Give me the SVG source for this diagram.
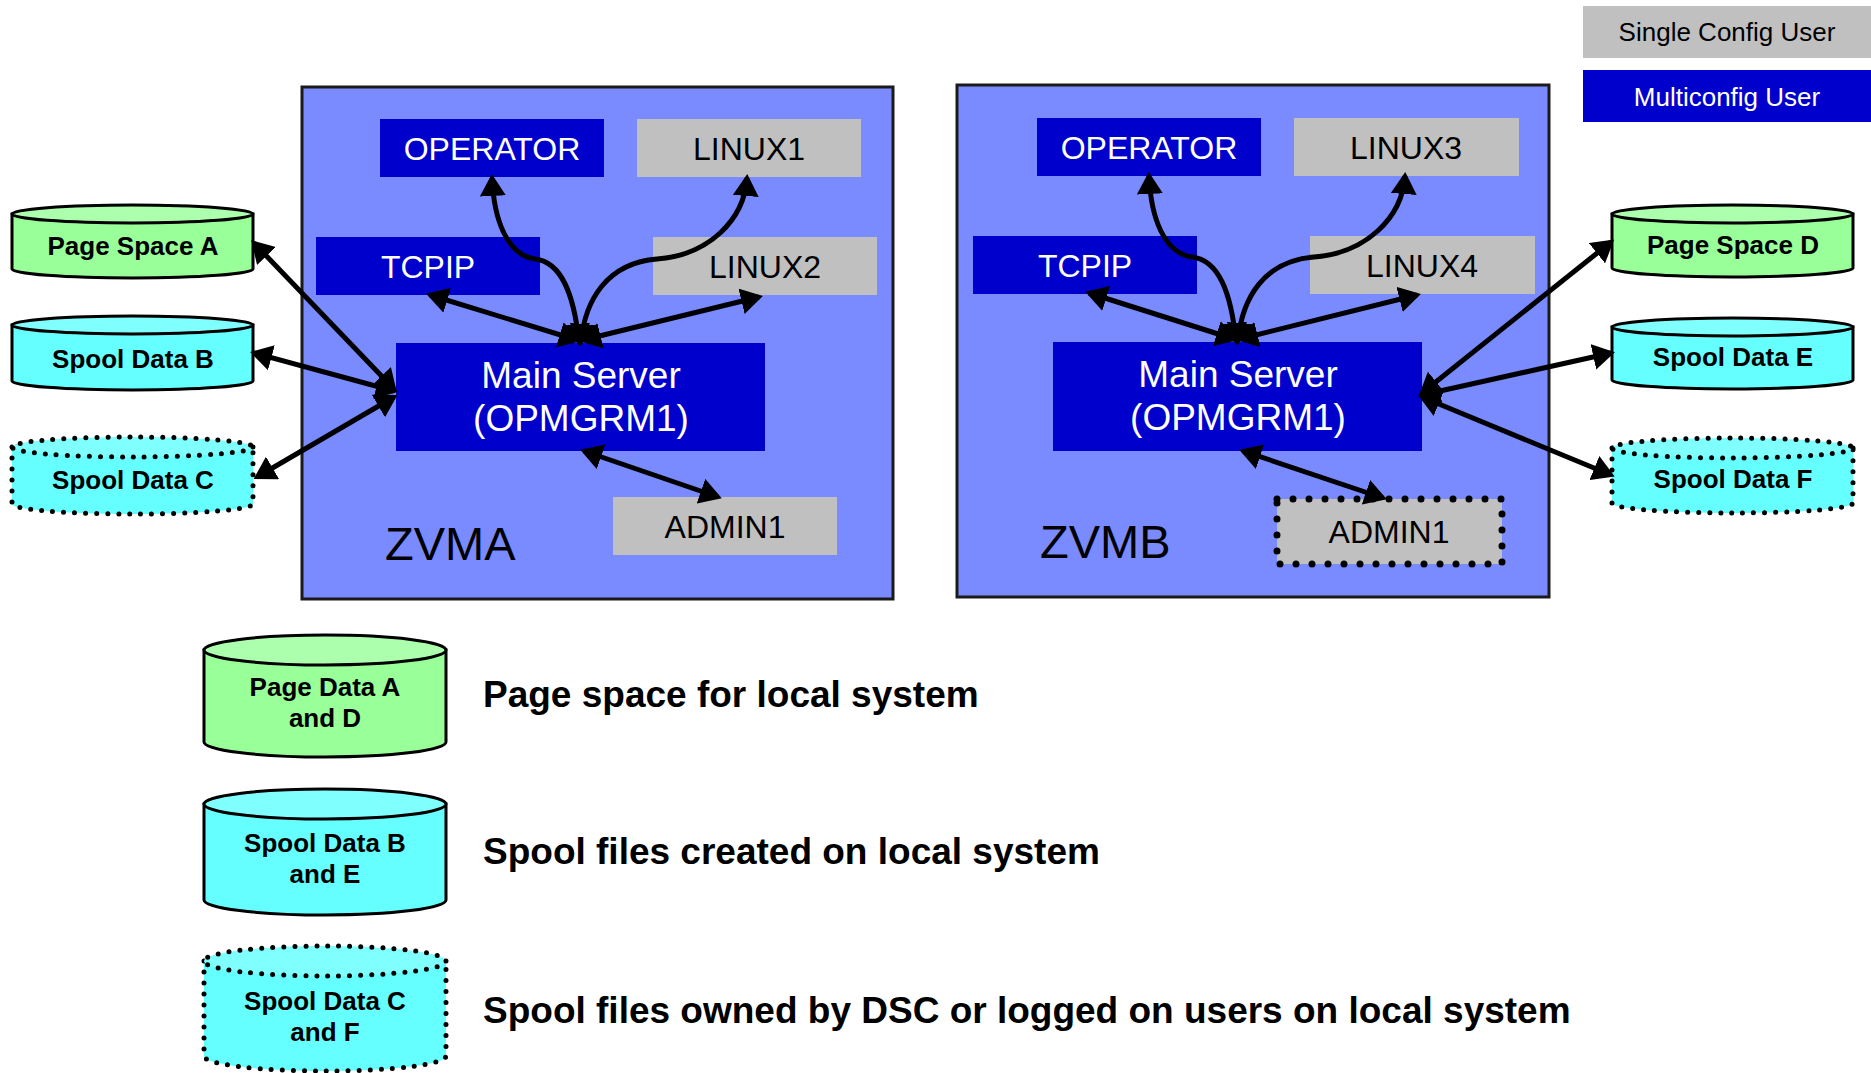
<svg xmlns="http://www.w3.org/2000/svg" width="1871" height="1073" viewBox="0 0 1871 1073">
<style>
.sys{fill:#7A8AFF;stroke:#1a1a1a;stroke-width:3}
.blue{fill:#0000CC}
.gray{fill:#C0C0C0}
.dotbox{stroke:#000;stroke-width:7;stroke-dasharray:0 16;stroke-linecap:round}
.tw{font-family:"Liberation Sans",Arial,sans-serif;font-size:32px;fill:#fff;text-anchor:middle}
.tb{font-family:"Liberation Sans",Arial,sans-serif;font-size:32px;fill:#000;text-anchor:middle}
.big{font-family:"Liberation Sans",Arial,sans-serif;font-size:47px;fill:#000}
.main{font-family:"Liberation Sans",Arial,sans-serif;font-size:37px;fill:#fff;text-anchor:middle}
.leg{font-size:26px}
.cyl{font-family:"Liberation Sans",Arial,sans-serif;font-size:26px;font-weight:bold;fill:#000;text-anchor:middle}
.desc{font-family:"Liberation Sans",Arial,sans-serif;font-size:37px;font-weight:bold;fill:#000}
.gb{fill:#99FF99;stroke:#000;stroke-width:3}
.gt{fill:#ACFFAC;stroke:#000;stroke-width:3}
.cb{fill:#66FFFF;stroke:#000;stroke-width:3}
.ct{fill:#80FFFF;stroke:#000;stroke-width:3}
.dot{stroke-width:5;stroke-dasharray:0 11;stroke-linecap:round}
.conn path{fill:none;stroke:#000;stroke-width:5;marker-start:url(#ah);marker-end:url(#ah)}
</style>
<defs>
<marker id="ah" markerUnits="userSpaceOnUse" markerWidth="22" markerHeight="26" refX="18" refY="13" orient="auto-start-reverse" viewBox="0 0 22 26">
<path d="M0,0 L22,13 L0,26 Z" fill="#000"/>
</marker>
</defs>

<g id="legend-single"><rect x="1583" y="6" width="288" height="52" class="gray"/><text x="1727" y="41" class="tb leg">Single Config User</text></g>
<g id="legend-multi"><rect x="1583" y="70" width="288" height="52" class="blue"/><text x="1727" y="106" class="tw leg">Multiconfig User</text></g>

<g id="zvma"><rect x="302" y="87" width="591" height="512" class="sys"/><text x="385" y="560" class="big">ZVMA</text></g>
<g id="zvma-operator"><rect x="380" y="119" width="224" height="58" class="blue"/><text x="492" y="160" class="tw">OPERATOR</text></g>
<g id="zvma-linux1"><rect x="637" y="119" width="224" height="58" class="gray"/><text x="749" y="160" class="tb">LINUX1</text></g>
<g id="zvma-tcpip"><rect x="316" y="237" width="224" height="58" class="blue"/><text x="428" y="278" class="tw">TCPIP</text></g>
<g id="zvma-linux2"><rect x="653" y="237" width="224" height="58" class="gray"/><text x="765" y="278" class="tb">LINUX2</text></g>
<g id="zvma-main"><rect x="396" y="343" width="369" height="108" class="blue"/><text x="581" y="388" class="main">Main Server</text><text x="581" y="431" class="main">(OPMGRM1)</text></g>
<g id="zvma-admin1"><rect x="613" y="497" width="224" height="58" class="gray"/><text x="725" y="538" class="tb">ADMIN1</text></g>

<g id="zvmb"><rect x="957" y="85" width="592" height="512" class="sys"/><text x="1040" y="558" class="big">ZVMB</text></g>
<g id="zvmb-operator"><rect x="1037" y="118" width="224" height="58" class="blue"/><text x="1149" y="159" class="tw">OPERATOR</text></g>
<g id="zvmb-linux3"><rect x="1294" y="118" width="225" height="58" class="gray"/><text x="1406" y="159" class="tb">LINUX3</text></g>
<g id="zvmb-tcpip"><rect x="973" y="236" width="224" height="58" class="blue"/><text x="1085" y="277" class="tw">TCPIP</text></g>
<g id="zvmb-linux4"><rect x="1310" y="236" width="225" height="58" class="gray"/><text x="1422" y="277" class="tb">LINUX4</text></g>
<g id="zvmb-main"><rect x="1053" y="342" width="369" height="109" class="blue"/><text x="1238" y="387" class="main">Main Server</text><text x="1238" y="430" class="main">(OPMGRM1)</text></g>
<g id="zvmb-admin1"><rect x="1277" y="499" width="225" height="65" class="gray dotbox"/><text x="1389" y="543" class="tb">ADMIN1</text></g>

<g id="page-space-a"><path d="M12,214 L12,269 A120.5,9 0 0 0 253,269 L253,214 Z" class="gb"/><ellipse cx="132.5" cy="214" rx="120.5" ry="9" class="gt"/><text x="133" y="255" class="cyl">Page Space A</text></g>
<g id="spool-data-b"><path d="M12,325 L12,381 A120.5,9 0 0 0 253,381 L253,325 Z" class="cb"/><ellipse cx="132.5" cy="325" rx="120.5" ry="9" class="ct"/><text x="133" y="368" class="cyl">Spool Data B</text></g>
<g id="spool-data-c"><path d="M12,447 L12,504 A120.5,10 0 0 0 253,504 L253,447 Z" class="cb dot"/><ellipse cx="132.5" cy="447" rx="120.5" ry="10" class="ct dot"/><text x="133" y="489" class="cyl">Spool Data C</text></g>

<g id="page-space-d"><path d="M1612,214 L1612,268 A120.5,9 0 0 0 1853,268 L1853,214 Z" class="gb"/><ellipse cx="1732.5" cy="214" rx="120.5" ry="9" class="gt"/><text x="1733" y="254" class="cyl">Page Space D</text></g>
<g id="spool-data-e"><path d="M1612,327 L1612,380 A120.5,9 0 0 0 1853,380 L1853,327 Z" class="cb"/><ellipse cx="1732.5" cy="327" rx="120.5" ry="9" class="ct"/><text x="1733" y="366" class="cyl">Spool Data E</text></g>
<g id="spool-data-f"><path d="M1612,448 L1612,503 A120.5,10 0 0 0 1853,503 L1853,448 Z" class="cb dot"/><ellipse cx="1732.5" cy="448" rx="120.5" ry="10" class="ct dot"/><text x="1733" y="488" class="cyl">Spool Data F</text></g>

<g id="key-page"><path d="M204,650 L204,742 A121,15 0 0 0 446,742 L446,650 Z" class="gb"/><ellipse cx="325" cy="650" rx="121" ry="15" class="gt"/><text x="325" y="696" class="cyl">Page Data A</text><text x="325" y="727" class="cyl">and D</text><text x="483" y="707" class="desc">Page space for local system</text></g>
<g id="key-spool-local"><path d="M204,804 L204,900 A121,15 0 0 0 446,900 L446,804 Z" class="cb"/><ellipse cx="325" cy="804" rx="121" ry="15" class="ct"/><text x="325" y="852" class="cyl">Spool Data B</text><text x="325" y="883" class="cyl">and E</text><text x="483" y="864" class="desc">Spool files created on local system</text></g>
<g id="key-spool-dsc"><path d="M204,961 L204,1056 A121,15 0 0 0 446,1056 L446,961 Z" class="cb dot"/><ellipse cx="325" cy="961" rx="121" ry="15" class="ct dot"/><text x="325" y="1010" class="cyl">Spool Data C</text><text x="325" y="1041" class="cyl">and F</text><text x="483" y="1023" class="desc">Spool files owned by DSC or logged on users on local system</text></g>

<g id="connectors" class="conn">
<path d="M579,342 C574,295 562,262 535,259 C507,255 494,220 492,178"/>
<path d="M581,342 C585,300 607,263 657,259 C709,255 744,220 747,178"/>
<path d="M577,340 L430,295"/>
<path d="M583,340 L759,297"/>
<path d="M584,451 L718,497"/>
<path d="M394,389 L254,243"/>
<path d="M394,391 L254,353"/>
<path d="M394,397 L257,477"/>
<path d="M1236,341 C1231,293 1219,260 1192,257 C1164,253 1151,218 1149,176"/>
<path d="M1238,341 C1242,298 1264,261 1314,257 C1366,253 1402,218 1405,176"/>
<path d="M1234,339 L1089,293"/>
<path d="M1240,339 L1417,295"/>
<path d="M1243,451 L1383,498"/>
<path d="M1422,393 L1611,242"/>
<path d="M1422,395 L1611,353"/>
<path d="M1422,397 L1611,475"/>
</g>
</svg>
